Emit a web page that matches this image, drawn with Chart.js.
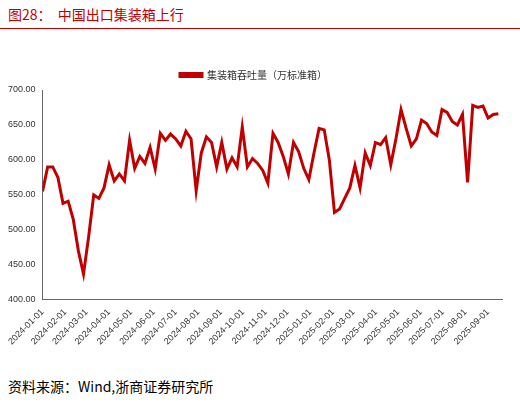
<!DOCTYPE html><html><head><meta charset="utf-8">
<script src="https://cdn.jsdelivr.net/npm/chart.js@4"></script>
<style>body{margin:0;background:#fff;font-family:"Noto Sans CJK SC";}
#t{position:absolute;left:8px;top:4px;font-size:14px;color:#c00000;}
#l{position:absolute;left:0;top:28px;width:520px;height:1px;background:#c00000;}
#f{position:absolute;left:8px;top:376px;font-size:14px;color:#000;}
#w{position:absolute;left:0;top:60px;width:520px;height:290px;}</style></head><body>
<div id="t">图28：&nbsp;&nbsp;中国出口集装箱上行</div><div id="l"></div>
<div id="w"><canvas id="c"></canvas></div>
<div id="f">资料来源：Wind,浙商证券研究所</div>
<script>
const seriesName='集装箱吞吐量（万标准箱）';
const values=[555,590,590,575,538,541,515,470,437,490,550,545,560,593,570,580,570,628,588,605,595,618,587,638,628,637,630,620,641,630,556,610,633,625,590,625,587,603,590,647,590,602,595,585,567,638,625,605,580,625,612,588,572,610,645,643,600,525,530,545,560,592,560,610,592,625,622,632,593,630,672,645,620,630,657,652,640,635,672,668,655,650,665,568,678,675,677,660,665,666];
const monthLabels=['2024-01-01','2024-02-01','2024-03-01','2024-04-01','2024-05-01','2024-06-01','2024-07-01','2024-08-01','2024-09-01','2024-10-01','2024-11-01','2024-12-01','2025-01-01','2025-02-01','2025-03-01','2025-04-01','2025-05-01','2025-06-01','2025-07-01','2025-08-01','2025-09-01'];
const yTicks=[400,450,500,550,600,650,700];
const t0=Date.UTC(2024,0,1);
const dayOf=s=>(Date.parse(s+'T00:00:00Z')-t0)/864e5;
const monthDays=monthLabels.map(dayOf);
const pts=values.map((v,i)=>({x:i*7,y:v}));
new Chart(document.getElementById('c'),{type:'line',data:{datasets:[{label:seriesName,data:pts,borderColor:'#c00000',backgroundColor:'#c00000',borderWidth:3,pointRadius:0,tension:0}]},
options:{animation:false,responsive:true,maintainAspectRatio:false,layout:{padding:{right:18,left:5}},
plugins:{legend:{labels:{boxWidth:22,boxHeight:3,font:{size:10,family:'Noto Sans CJK SC'},color:'#333'}},tooltip:{enabled:false}},
scales:{x:{type:'linear',min:0,max:dayOf('2025-09-20'),afterBuildTicks:a=>{a.ticks=monthDays.map(v=>({value:v}));},
ticks:{autoSkip:false,maxRotation:45,minRotation:45,font:{size:9},color:'#333',callback:(v)=>monthLabels[monthDays.indexOf(v)]||''},
grid:{display:false,drawTicks:true,tickLength:4,color:'#666'},border:{color:'#666'}},
y:{min:400,max:700,afterBuildTicks:a=>{a.ticks=yTicks.map(v=>({value:v}));},ticks:{font:{size:9},color:'#333',callback:v=>v.toFixed(2)},grid:{display:false,tickLength:4,color:'#666'},border:{color:'#666'}}}}});
</script></body></html>
